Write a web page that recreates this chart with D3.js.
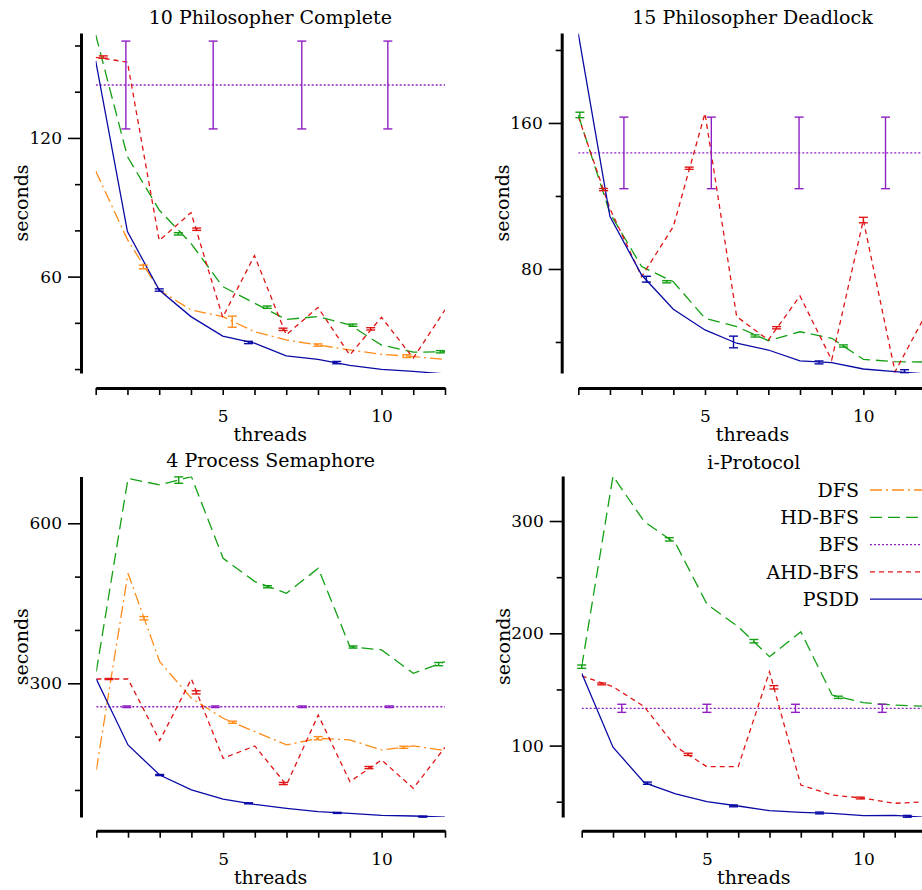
<!DOCTYPE html>
<meta charset="utf-8">
<style>
    body { margin: 0; background: #fff; }
    text { font-family: "DejaVu Serif", serif; fill: #000; }
    .series { fill: none; stroke-width: 1.3; }
    .err { stroke-width: 1.4; }
</style>
<svg width="922" height="890"></svg>
<script src="https://cdn.jsdelivr.net/npm/d3@7/dist/d3.min.js"></script>
<script>

// ---- data ----
var threads = [1, 2, 3, 4, 5, 6, 7, 8, 9, 10, 11, 12];
var seriesNames = ["DFS", "HD-BFS", "BFS", "AHD-BFS", "PSDD"];

// 10 Philosopher Complete
var phil10Dfs    = [105.7, 76, 54.2, 45.6, 42.7, 36.2, 32.6, 30.4, 28.3, 26.4, 25.4, 24.2];
var phil10HdBfs  = [164.6, 111.9, 88.8, 74.4, 55.7, 48.5, 41.5, 42.7, 39.1, 30.4, 27.3, 27.5];
var phil10Bfs    = 142.9;
var phil10AhdBfs = [154.9, 152.8, 75.6, 87.7, 42.4, 69.1, 34.8, 46.7, 26.1, 42.4, 24.7, 45.6];
var phil10Psdd   = [153.3, 79.5, 54.2, 42.7, 34.3, 31.2, 25.7, 24.2, 21.6, 19.9, 19.0, 17.9];
// error bars: [threads, seconds, half-width]
var phil10DfsErr    = [[2.5, 64.2, 0.8], [5.3, 40.5, 2.4], [8.0, 30.4, 0.5], [10.8, 25.6, 0.6]];
var phil10HdBfsErr  = [[3.6, 78.5, 0.5], [6.4, 46.8, 0.5], [9.1, 39.0, 0.5], [11.85, 27.5, 0.5]];
var phil10BfsErr    = [[1.95, 142.9, 19], [4.7, 142.9, 19], [7.49, 142.9, 19], [10.2, 142.9, 19]];
var phil10AhdBfsErr = [[1.24, 155.0, 0.5], [4.18, 80.5, 0.5], [6.9, 37.2, 0.5], [9.66, 37.4, 0.5]];
var phil10PsddErr   = [[3.0, 54.2, 0.5], [5.81, 31.5, 0.5], [8.59, 22.8, 0.5]];

// 15 Philosopher Deadlock
var phil15HdBfs  = [164.4, 110.5, 81.3, 73.0, 53.0, 48.4, 40.7, 45.6, 42.0, 30.5, 29.2, 29.0];
var phil15Bfs    = 143.6;
var phil15AhdBfs = [163.5, 113, 75.8, 103.2, 165.3, 53.9, 41.1, 65.2, 30.1, 106.8, 23.7, 56];
var phil15Psdd   = [209, 108.7, 76.7, 57.9, 46.6, 39.3, 35.6, 29.6, 28.7, 25.2, 23.7, 22.5];
var phil15HdBfsErr  = [[1.05, 164.4, 1.5], [3.79, 73.0, 0.6], [6.58, 43.3, 0.6], [9.37, 37.8, 0.6]];
var phil15BfsErr    = [[2.44, 143.6, 19.6], [5.2, 143.6, 19.6], [7.97, 143.6, 19.6], [10.7, 143.6, 19.6]];
var phil15AhdBfsErr = [[1.8, 123.5, 0.6], [4.5, 135.2, 0.6], [7.26, 47.8, 0.6], [10.0, 106.8, 1.5]];
var phil15PsddErr   = [[3.15, 74.4, 1.6], [5.9, 40.0, 3.2], [8.6, 28.8, 0.8], [11.3, 24.0, 0.8]];

// 4 Process Semaphore
var sem4Dfs    = [137.5, 506.2, 340.6, 271.9, 234.4, 209.4, 184.4, 196.9, 193.8, 175, 182.5, 173.7];
var sem4HdBfs  = [322, 684, 672, 687.5, 534.4, 490.6, 468.8, 515.6, 368.7, 362.5, 318.7, 340.6];
var sem4Bfs    = 256;
var sem4AhdBfs = [308, 308, 192.5, 308, 159.4, 182.5, 109.4, 240.6, 115.6, 156.2, 103.1, 180];
var sem4Psdd   = [308, 184.4, 128, 100, 83, 73, 65.6, 59.4, 56.2, 52.5, 51.2, 48.8];
var sem4DfsErr    = [[2.5, 422, 3], [5.3, 227, 2], [8.0, 197, 3], [10.7, 180, 2]];
var sem4HdBfsErr  = [[3.6, 681, 6], [6.4, 481, 2], [9.1, 368, 2], [11.8, 336, 3]];
var sem4BfsErr    = [[1.96, 256, 1.5], [4.75, 256, 1.5], [7.5, 256, 1.5], [10.24, 256, 1.5]];
var sem4AhdBfsErr = [[1.4, 308, 1], [4.15, 283, 3], [6.9, 112, 2], [9.6, 142, 2]];
var sem4PsddErr   = [[3.0, 128, 1], [5.8, 75, 1], [8.6, 57, 1], [11.3, 50, 1]];

// i-Protocol
var iprotHdBfs  = [170.3, 340, 299.4, 280.1, 226, 205.9, 179.2, 201.4, 145, 138.2, 136.1, 135];
var iprotBfs    = 133.2;
var iprotAhdBfs = [162, 152.5, 134.6, 99, 81.2, 81.2, 165.8, 64.9, 56, 53.1, 48.6, 50];
var iprotPsdd   = [164.4, 98.5, 67, 56.9, 50, 46.2, 42, 40.6, 39.7, 37.6, 37.9, 36];
var iprotHdBfsErr  = [[1.0, 170.3, 1.5], [3.8, 283.7, 1.5], [6.5, 193, 1.5], [9.2, 143, 1]];
var iprotBfsErr    = [[2.28, 133.2, 3.6], [5.0, 133.2, 3.6], [7.83, 133.2, 3.6], [10.6, 133.2, 3.6]];
var iprotAhdBfsErr = [[1.64, 154.9, 0.8], [4.4, 92.2, 1], [7.14, 151.9, 1.5], [9.9, 53.3, 0.8]];
var iprotPsddErr   = [[3.1, 66.5, 1], [5.85, 46.3, 0.8], [8.6, 40, 0.8], [11.4, 37, 0.8]];

// ---- styles per series ----
var colors = { "DFS": "#ff8c1a", "HD-BFS": "#13a013", "BFS": "#8f1fc4", "AHD-BFS": "#e01515", "PSDD": "#0a0aa5" };
var dashes = { "DFS": "12,4,2,4", "HD-BFS": "12,6", "BFS": "2,2", "AHD-BFS": "5,4", "PSDD": null };

var svg = d3.select("svg");

var panels = [
    { id: 1, title: "10 Philosopher Complete", xr: [95.7, 445], yd: [18.3, 165.4], yr: [373, 33], axX: 81, axY: 388,
      yTicks: [20, 40, 60, 80, 100, 120, 140, 160], yLabels: [60, 120], titleY: 24,
      series: { "DFS": [phil10Dfs, phil10DfsErr], "HD-BFS": [phil10HdBfs, phil10HdBfsErr], "BFS": [phil10Bfs, phil10BfsErr],
                "AHD-BFS": [phil10AhdBfs, phil10AhdBfsErr], "PSDD": [phil10Psdd, phil10PsddErr] } },
    { id: 2, title: "15 Philosopher Deadlock", xr: [578.3, 926.7], yd: [23.0, 209.3], yr: [373, 33], axX: 561.7, axY: 388,
      yTicks: [40, 80, 120, 160, 200], yLabels: [80, 160], titleY: 24,
      series: { "HD-BFS": [phil15HdBfs, phil15HdBfsErr], "BFS": [phil15Bfs, phil15BfsErr],
                "AHD-BFS": [phil15AhdBfs, phil15AhdBfsErr], "PSDD": [phil15Psdd, phil15PsddErr] } },
    { id: 3, title: "4 Process Semaphore", xr: [96.3, 445], yd: [49.3, 687.7], yr: [817, 476.5], axX: 81, axY: 830.7,
      yTicks: [100, 200, 300, 400, 500, 600], yLabels: [300, 600], titleY: 467,
      series: { "DFS": [sem4Dfs, sem4DfsErr], "HD-BFS": [sem4HdBfs, sem4HdBfsErr], "BFS": [sem4Bfs, sem4BfsErr],
                "AHD-BFS": [sem4AhdBfs, sem4AhdBfsErr], "PSDD": [sem4Psdd, sem4PsddErr] } },
    { id: 4, title: "i-Protocol", xr: [581.7, 926], yd: [36.4, 340.1], yr: [817, 476], axX: 562.7, axY: 830.7,
      yTicks: [50, 100, 150, 200, 250, 300], yLabels: [100, 200, 300], titleY: 469, legend: true,
      series: { "HD-BFS": [iprotHdBfs, iprotHdBfsErr], "BFS": [iprotBfs, iprotBfsErr],
                "AHD-BFS": [iprotAhdBfs, iprotAhdBfsErr], "PSDD": [iprotPsdd, iprotPsddErr] } }
];

panels.forEach(drawPanel);

function drawPanel(p) {
    var x = d3.scaleLinear().domain([threads[0], threads[threads.length - 1]]).range(p.xr);
    var y = d3.scaleLinear().domain(p.yd).range(p.yr);
    var g = svg.append("g");

    svg.append("clipPath").attr("id", "clip" + p.id)
        .append("rect")
        .attr("x", p.xr[0]).attr("y", p.yr[1])
        .attr("width", p.xr[1] - p.xr[0]).attr("height", p.yr[0] - p.yr[1]);

    // y axis: long ticks for labelled values, short ones otherwise
    var ya = g.append("g")
        .attr("transform", "translate(" + p.axX + ",0)")
        .call(d3.axisLeft(y).tickValues(p.yTicks).tickSize(13).tickSizeOuter(0).tickPadding(6)
            .tickFormat(function (d) { return p.yLabels.indexOf(d) >= 0 ? d : ""; }));
    ya.attr("font-family", null).attr("font-size", null);
    ya.select(".domain").attr("stroke-width", 3);
    ya.selectAll(".tick line").attr("stroke-width", 1.6)
        .attr("x2", function (d) { return p.yLabels.indexOf(d) >= 0 ? -13 : -6; });
    ya.selectAll(".tick text").style("font-size", "17px");

    // x axis
    var xa = g.append("g")
        .attr("transform", "translate(0," + p.axY + ")")
        .call(d3.axisBottom(x).tickValues(threads).tickSize(7).tickSizeOuter(0).tickPadding(15)
            .tickFormat(function (d) { return d % 5 === 0 ? d : ""; }));
    xa.attr("font-family", null).attr("font-size", null);
    xa.select(".domain").attr("stroke-width", 3);
    xa.selectAll(".tick line").attr("stroke-width", 1.6);
    xa.selectAll(".tick text").style("font-size", "17px");

    // titles and axis labels
    var midX = (p.xr[0] + p.xr[1]) / 2;
    g.append("text")
        .attr("x", midX)
        .attr("y", p.titleY)
        .attr("text-anchor", "middle")
        .style("font-size", "19px")
        .text(p.title);

    g.append("text")
        .attr("x", midX)
        .attr("y", p.axY + 53)
        .attr("text-anchor", "middle")
        .style("font-size", "19px")
        .text("threads");

    g.append("text")
        .attr("transform", "translate(" + (p.axX - 53) + "," + ((p.yr[0] + p.yr[1]) / 2) + ") rotate(-90)")
        .attr("text-anchor", "middle")
        .style("font-size", "19px")
        .text("seconds");

    // series
    var line = d3.line()
        .x(function (d) { return x(d[0]); })
        .y(function (d) { return y(d[1]); });

    var plot = g.append("g").attr("clip-path", "url(#clip" + p.id + ")");
    var bars = g.append("g");

    seriesNames.forEach(function (name) {
        var s = p.series[name];
        if (!s) return;
        var vals = s[0];
        // BFS is a single value, drawn flat across all thread counts
        var pts = Array.isArray(vals)
            ? threads.map(function (t, i) { return [t, vals[i]]; })
            : [[threads[0], vals], [threads[threads.length - 1], vals]];

        plot.append("path")
            .datum(pts)
            .attr("class", "series")
            .attr("stroke", colors[name])
            .attr("stroke-dasharray", dashes[name])
            .attr("d", line);

        var eb = bars.selectAll(".eb" + name).data(s[1]).enter().append("g")
            .attr("stroke", colors[name]).attr("class", "err");
        eb.append("line")
            .attr("x1", function (d) { return x(d[0]); })
            .attr("x2", function (d) { return x(d[0]); })
            .attr("y1", function (d) { return y(d[1] - d[2]); })
            .attr("y2", function (d) { return y(d[1] + d[2]); });
        [-1, 1].forEach(function (sgn) {
            eb.append("line")
                .attr("x1", function (d) { return x(d[0]) - 4.5; })
                .attr("x2", function (d) { return x(d[0]) + 4.5; })
                .attr("y1", function (d) { return y(d[1] + sgn * d[2]); })
                .attr("y2", function (d) { return y(d[1] + sgn * d[2]); });
        });
    });

    if (p.legend) {
        var lg = g.append("g");
        seriesNames.forEach(function (name, i) {
            var ly = 490 + i * 27.3;
            lg.append("text")
                .attr("x", 859)
                .attr("y", ly)
                .attr("dy", "0.36em")
                .attr("text-anchor", "end")
                .style("font-size", "19px")
                .text(name);
            lg.append("line")
                .attr("x1", 870).attr("x2", 960)
                .attr("y1", ly).attr("y2", ly)
                .attr("class", "series")
                .attr("stroke", colors[name])
                .attr("stroke-dasharray", dashes[name]);
        });
    }
}

</script>
